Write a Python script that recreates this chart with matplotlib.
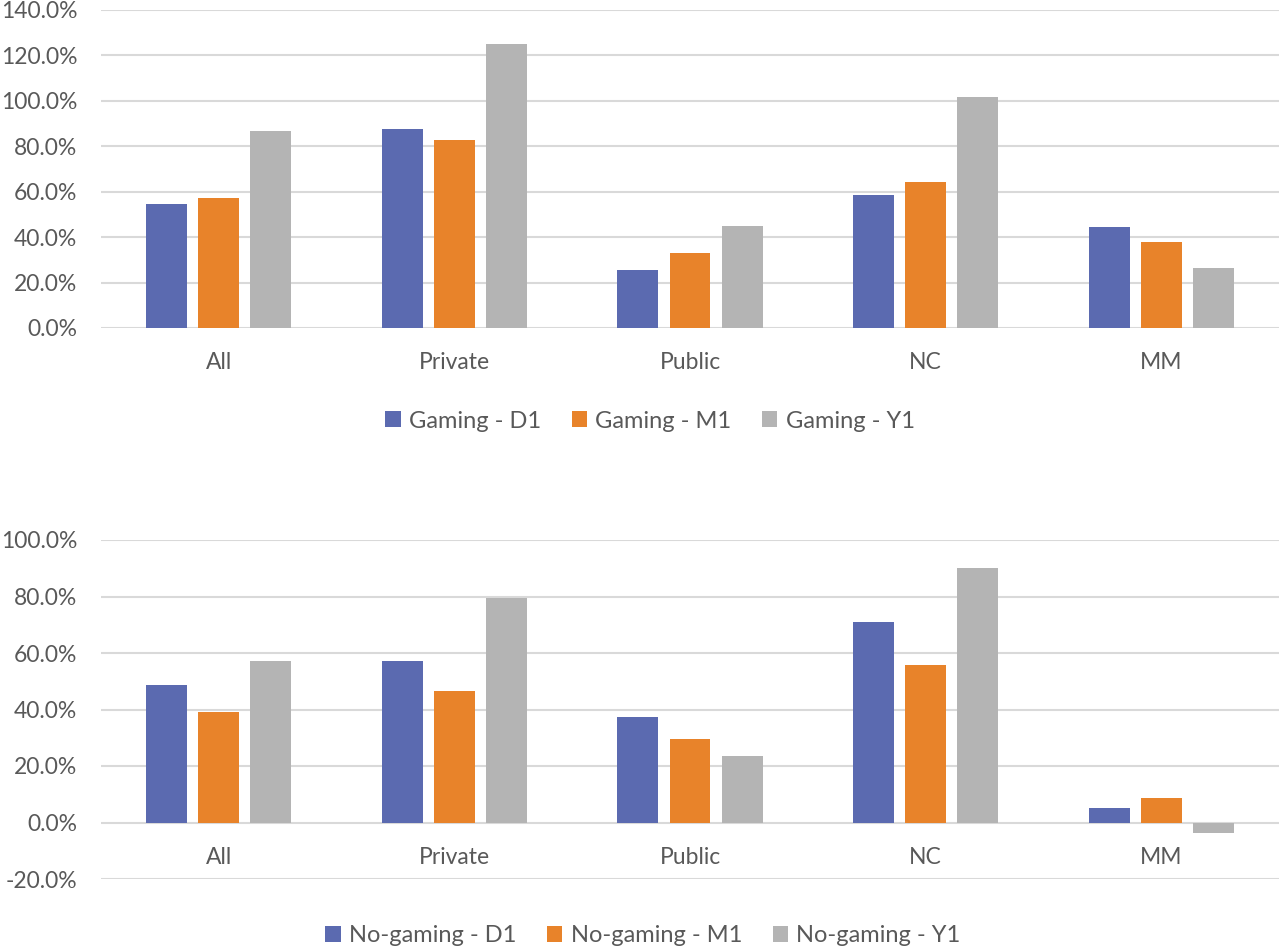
import matplotlib.pyplot as plt
import numpy as np

# categories and series
categories = ["All", "Private", "Public", "NC", "MM"]

gaming_d1 = [54.8, 87.6, 25.5, 58.7, 44.6]
gaming_m1 = [57.3, 82.8, 33.2, 64.3, 38.0]
gaming_y1 = [86.6, 124.9, 45.0, 101.9, 26.5]

nogaming_d1 = [48.5, 57.0, 37.4, 71.1, 5.0]
nogaming_m1 = [39.2, 46.7, 29.5, 55.8, 8.5]
nogaming_y1 = [57.1, 79.5, 23.7, 90.1, -3.7]

top_labels = ["Gaming - D1", "Gaming - M1", "Gaming - Y1"]
bottom_labels = ["No-gaming - D1", "No-gaming - M1", "No-gaming - Y1"]

colors = ["#5B6AB0", "#E8832A", "#B4B4B4"]
text_color = "#595959"
grid_color = "#D9D9D9"

plt.rcParams['font.family'] = ['Lato', 'DejaVu Sans']

W, H = 1280, 949
fig = plt.figure(figsize=(W / 100, H / 100), dpi=100)


def draw(ax, series, labels, yticks):
    x = np.arange(len(categories))
    offs = [-0.221, 0.0, 0.221]
    handles = []
    for vals, off, col, lab in zip(series, offs, colors, labels):
        b = ax.bar(x + off, vals, width=0.174, color=col, label=lab, zorder=3)
        handles.append(b)
    ax.set_xlim(-0.5, len(categories) - 0.5)
    ax.set_ylim(yticks[0], yticks[-1])
    ax.set_yticks(yticks)
    ax.set_yticklabels(["%.1f%%" % t for t in yticks])
    ax.set_xticks([])
    ax.grid(axis='y', color=grid_color, linewidth=1.5, zorder=0)
    for s in ax.spines.values():
        s.set_visible(False)
    ax.tick_params(axis='y', length=0, pad=17, labelsize=16.5, labelcolor=text_color)
    for i, c in enumerate(categories):
        ax.annotate(c, (i, 0), xytext=(0, -25), textcoords='offset points',
                    ha='center', va='center', fontsize=16.5, color=text_color)
    return handles


ax1 = fig.add_axes([101 / W, 1 - 328 / H, 1178 / W, 318 / H])
h1 = draw(ax1, [gaming_d1, gaming_m1, gaming_y1], top_labels, list(range(0, 141, 20)))
fig.legend(h1, top_labels, loc='center', bbox_to_anchor=(650 / W, 1 - 421 / H),
           ncol=3, frameon=False, fontsize=17, labelcolor=text_color,
           handlelength=0.65, handleheight=0.65, handletextpad=0.35, columnspacing=1.3)

ax2 = fig.add_axes([101 / W, 1 - 879 / H, 1178 / W, 339 / H])
h2 = draw(ax2, [nogaming_d1, nogaming_m1, nogaming_y1], bottom_labels, list(range(-20, 101, 20)))
fig.legend(h2, bottom_labels, loc='center', bbox_to_anchor=(643 / W, 1 - 936 / H),
           ncol=3, frameon=False, fontsize=17, labelcolor=text_color,
           handlelength=0.65, handleheight=0.65, handletextpad=0.35, columnspacing=1.3)

fig.savefig("out.png", dpi=100)
